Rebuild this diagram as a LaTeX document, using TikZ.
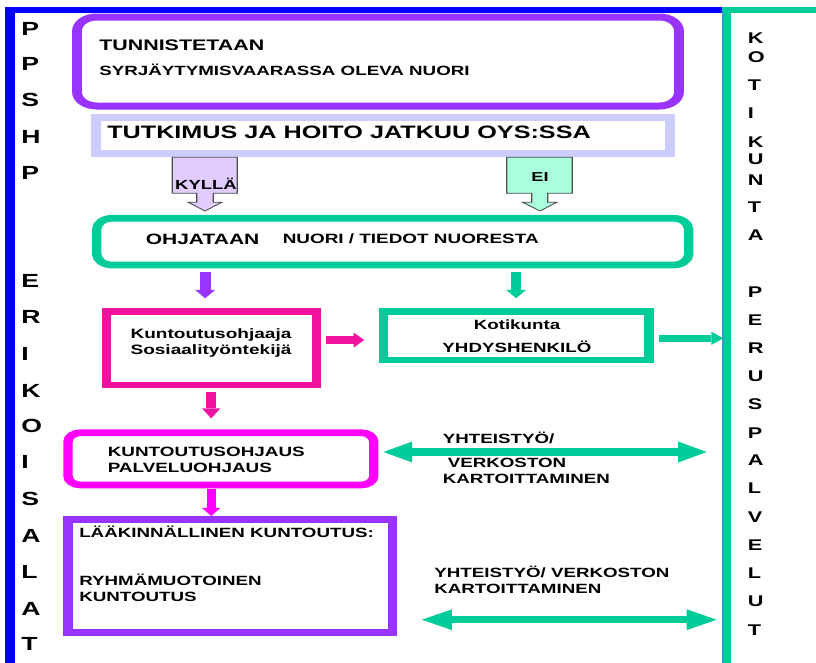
\documentclass[tikz,border=0pt]{standalone}
\usepackage{fontspec}
\setmainfont{Liberation Sans}
\usetikzlibrary{arrows.meta,fit}

\definecolor{frameblue}{HTML}{0000FF}
\definecolor{violetline}{HTML}{9933FF}
\definecolor{lavline}{HTML}{CCCCFF}
\definecolor{tealline}{HTML}{00CC99}
\definecolor{pinkline}{HTML}{F012A0}
\definecolor{magline}{HTML}{FF00FF}
\definecolor{yesfill}{HTML}{E0CCFF}
\definecolor{nofill}{HTML}{AAFFDD}
\definecolor{edgeblue}{HTML}{3399CC}

\tikzset{
  boxline/.style={inner sep=0pt, line width=6.7pt},
  tx/.style={inner sep=0pt, font=\bfseries\fontsize{#1}{#1}\selectfont},
  callout/.style={draw=black!70, line width=0.8pt, line join=miter},
  tip/.style n args={2}{-{Triangle[width=#1,length=#2,line width=0pt]}},
  dtip/.style n args={2}{{Triangle[width=#1,length=#2,line width=0pt]}-{Triangle[width=#1,length=#2,line width=0pt]}}
}

\begin{document}
\begin{tikzpicture}
\useasboundingbox (0,0) rectangle (816pt,-662pt);
\fill[white] (0,0) rectangle (816pt,-662pt);
% everything below is drawn 1.4 times wider than it is high
\begin{scope}[transform canvas={xscale=1.4}, x=0.714286pt, y=-1pt]

  % outer frames: specialised care (left) and home municipality (right)
  \draw[frameblue, line width=6pt] (5,10.3) -- (723,10.3);
  \draw[frameblue, line width=7.1pt] (10,7.3) -- (10,670);
  \draw[tealline, line width=6pt] (722.3,10.3) -- (830,10.3);
  \draw[tealline, line width=6.4pt] (727,7.3) -- (727,670);
  \draw[edgeblue, line width=1pt] (723,13.3) -- (723,670);

  % vertical captions
  \foreach \ch/\yy [count=\i] in {P/35,P/70,S/106.5,H/143,P/179,E/287,R/323,I/360,K/397,O/432.5,I/468,S/505,A/542,L/578,A/615,T/650}
    \node[tx=19, anchor=base west] (sideL\i) at (21,\yy) {\ch};
  \foreach \ch/\yy [count=\i] in {K/43,O/62.5,T/90,I/118,K/147,U/164.5,N/185,T/212,A/240,P/297,E/325,R/353,U/381.5,S/409.5,P/438,A/465,L/493,V/522,E/550,L/578,U/606.5,T/635}
    \node[tx=15.5, anchor=base west] (sideR\i) at (747.5,\yy) {\ch};

  % identification
  \node[fit={(77,17) (679,106)}, boxline, line width=7pt, draw=violetline, rounded corners=14pt] (tun) {};
  \node[tx=15.3, anchor=base west] (tunA) at (99,50) {TUNNISTETAAN};
  \node[tx=13.4, anchor=base west] (tunB) at (99,75) {SYRJÄYTYMISVAARASSA OLEVA NUORI};

  % question box
  \node[fit={(96,117.3) (670,153.3)}, boxline, draw=lavline] (tut) {};
  \node[tx=18, anchor=base west] (tutA) at (107,138.3) {TUTKIMUS JA HOITO JATKUU OYS:SSA};

  % yes / no block arrows
  \draw[callout, fill=yesfill] (172.3,157.3) -- (237.3,157.3) -- (237.3,193.3) -- (213.3,193.3)
    -- (213.3,202.3) -- (221.7,202.3) -- (205,211) -- (188.3,202.3) -- (196.7,202.3)
    -- (196.7,193.3) -- (172.3,193.3) -- cycle;
  \node[tx=13.2, anchor=base] (kylla) at (206,189) {KYLLÄ};
  \draw[callout, fill=nofill] (506.7,157.3) -- (572.3,157.3) -- (572.3,193.3) -- (547.7,193.3)
    -- (547.7,202.3) -- (556.7,202.3) -- (540,211) -- (522.7,202.3) -- (531.7,202.3)
    -- (531.7,193.3) -- (506.7,193.3) -- cycle;
  \node[tx=13, anchor=base] (ei) at (540,181.7) {EI};

  % referral
  \node[fit={(96.7,218.3) (688.7,265)}, boxline, draw=tealline, rounded corners=11pt] (ohj) {};
  \node[tx=15, anchor=base west] (ohjA) at (145.5,244) {OHJATAAN};
  \node[tx=13.5, anchor=base west] (ohjB) at (282.5,243.5) {NUORI / TIEDOT NUORESTA};

  % hospital contact persons
  \node[fit={(106.2,311.7) (316.2,385)}, boxline, draw=pinkline] (kunt) {};
  \node[tx=13.6, anchor=base] (kuntA) at (211,338.3) {Kuntoutusohjaaja};
  \node[tx=13.6, anchor=base] (kuntB) at (211,354.3) {Sosiaalityöntekijä};

  % municipal contact person
  \node[fit={(383.3,311.7) (649,360)}, boxline, line width=6.8pt, draw=tealline] (koti) {};
  \node[tx=13.4, anchor=base] (kotiA) at (517,329.3) {Kotikunta};
  \node[tx=13.4, anchor=base] (kotiB) at (517,352.7) {YHDYSHENKILÖ};

  % guidance
  \node[fit={(68,432.7) (373.8,485)}, boxline, draw=magline, rounded corners=9pt] (mag) {};
  \node[tx=13.5, anchor=base west] (magA) at (107.5,456.7) {KUNTOUTUSOHJAUS};
  \node[tx=13.5, anchor=base west] (magB) at (107.5,472.3) {PALVELUOHJAUS};

  % medical rehabilitation
  \node[fit={(68,519.3) (392.8,632.7)}, boxline, draw=violetline] (lk) {};
  \node[tx=13.4, anchor=base west] (lkA) at (79,537.3) {LÄÄKINNÄLLINEN KUNTOUTUS:};
  \node[tx=13.4, anchor=base west] (lkB) at (79,585) {RYHMÄMUOTOINEN};
  \node[tx=13.4, anchor=base west] (lkC) at (79,601) {KUNTOUTUS};

  % cooperation labels
  \node[tx=13.4, anchor=base west] (coopA) at (442.5,443.3) {YHTEISTYÖ/};
  \node[tx=13.4, anchor=base west] (coopB) at (447.5,467.3) {VERKOSTON};
  \node[tx=13.4, anchor=base west] (coopC) at (442.5,483.3) {KARTOITTAMINEN};
  \node[tx=13.4, anchor=base west] (coopD) at (434,577.7) {YHTEISTYÖ/ VERKOSTON};
  \node[tx=13.4, anchor=base west] (coopE) at (434,593.3) {KARTOITTAMINEN};

  % connectors
  \coordinate (pa) at ([xshift=-4.3pt]kunt.north);
  \draw[violetline, line width=7.6pt, tip={14.3pt}{8.5pt}, shorten <=3.4pt, shorten >=10pt]
    (ohj.south -| pa) -- (pa);
  \draw[tealline, line width=7.1pt, tip={14.3pt}{8.5pt}, shorten <=3.4pt, shorten >=10pt]
    (ohj.south -| koti.north) -- (koti.north);
  \draw[pinkline, line width=7.1pt, tip={13.1pt}{10pt}, shorten <=3.4pt, shorten >=11pt]
    (kunt.south) -- (mag.north -| kunt.south);
  \draw[magline, line width=6.2pt, tip={13.1pt}{8pt}, shorten <=1pt]
    (mag.south -| kunt.south) -- (lk.north -| kunt.south);

  \coordinate (pr) at ([yshift=-4.2pt]koti.west);
  \draw[pinkline, line width=7.5pt, tip={15pt}{7.6pt}, shorten <=3.8pt, shorten >=10.2pt]
    (kunt.east |- pr) -- (pr);
  \coordinate (tr) at (723.3,338.3);
  \draw[tealline, line width=6.7pt, tip={13.3pt}{8.6pt}, shorten <=3.9pt]
    (koti.east |- tr) -- (tr);

  \coordinate (d1) at (706.7,452);
  \draw[tealline, line width=7.7pt, dtip={21pt}{20.5pt}, shorten <=3.6pt]
    (mag.east |- d1) -- (d1);
  \coordinate (d2) at (716.7,619.7);
  \draw[tealline, line width=7.3pt, dtip={20.7pt}{21.4pt}, shorten <=17.4pt]
    (lk.east |- d2) -- (d2);
\end{scope}
\end{tikzpicture}
\end{document}
